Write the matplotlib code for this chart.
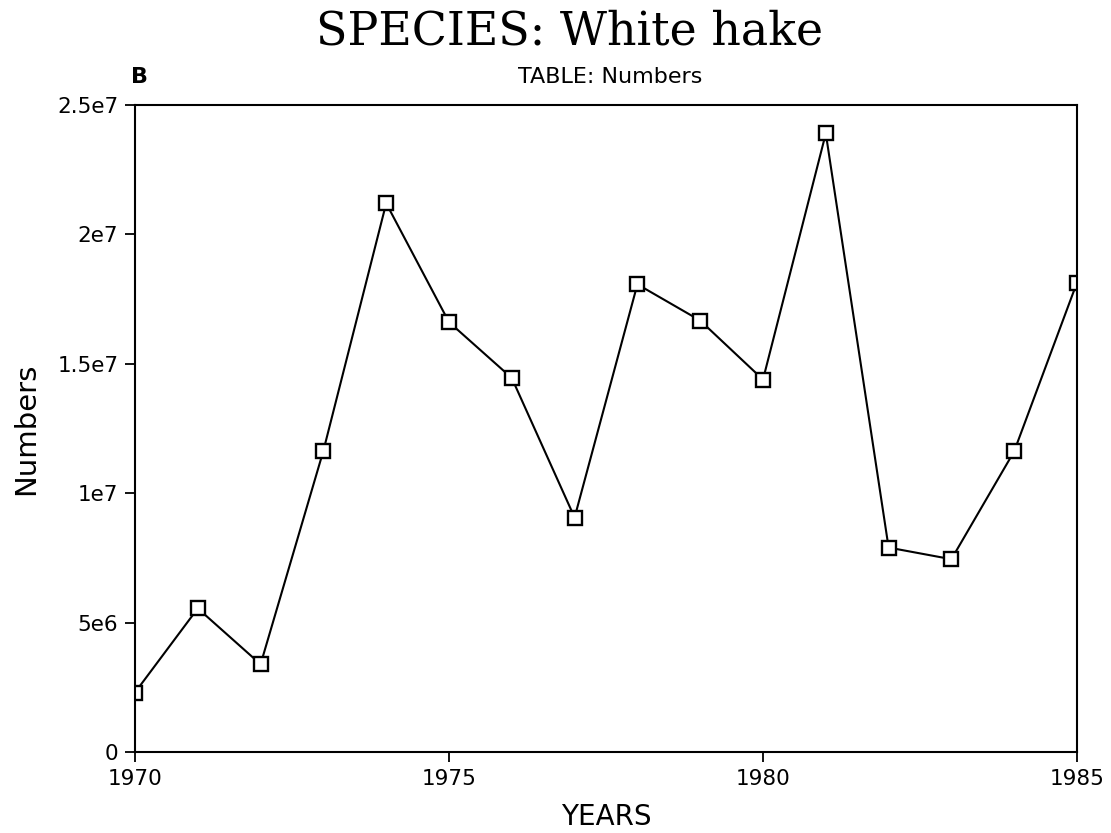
import matplotlib
matplotlib.use("Agg")
import matplotlib.pyplot as plt

years = [1970, 1971, 1972, 1973, 1974, 1975, 1976, 1977,
         1978, 1979, 1980, 1981, 1982, 1983, 1984, 1985]
numbers = [2.3e6, 5.55e6, 3.39e6, 1.164e7, 2.12e7, 1.661e7, 1.445e7, 9.06e6,
           1.807e7, 1.667e7, 1.439e7, 2.39e7, 7.9e6, 7.45e6, 1.162e7, 1.814e7]
yticks = [0, 5e6, 1e7, 1.5e7, 2e7, 2.5e7]
ytick_labels = ["0", "5e6", "1e7", "1.5e7", "2e7", "2.5e7"]
xticks = [1970, 1975, 1980, 1985]
xtick_labels = ["1970", "1975", "1980", "1985"]

fig = plt.figure(figsize=(11.11, 8.33), dpi=100)
ax = fig.add_axes([0.1215, 0.0972, 0.8479, 0.7768])

ax.plot(years, numbers, color="black", linewidth=1.5, marker="s",
        markersize=10, markerfacecolor="white", markeredgecolor="black",
        markeredgewidth=1.7)

ax.set_xlim(1970, 1985)
ax.set_ylim(0, 2.5e7)
ax.set_yticks(yticks)
ax.set_yticklabels(ytick_labels)
ax.set_xticks(xticks)
ax.set_xticklabels(xtick_labels)
ax.tick_params(axis="both", direction="out", length=7, width=1.3,
               labelsize=15.5, colors="black", pad=5)
for s in ax.spines.values():
    s.set_linewidth(1.5)

ax.set_ylabel("Numbers", fontsize=21, labelpad=12)
ax.set_xlabel("YEARS", fontsize=20, labelpad=10)

fig.text(0.513, 0.962, "SPECIES: White hake", ha="center", va="center",
         fontsize=33, family="DejaVu Serif")
fig.text(0.549, 0.907, "TABLE: Numbers", ha="center", va="center",
         fontsize=16)
fig.text(0.126, 0.908, "B", ha="center", va="center", fontsize=16,
         fontweight="bold")

fig.savefig("out.png", dpi=100)
